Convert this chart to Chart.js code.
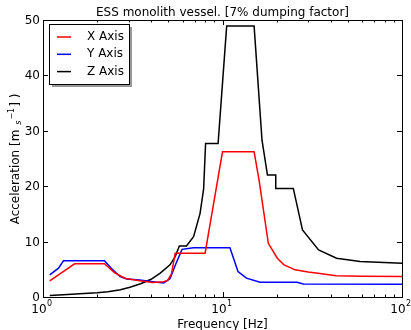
<!DOCTYPE html>
<html>
<head>
<meta charset="utf-8">
<script src="https://cdn.jsdelivr.net/npm/chart.js@4.4.1/dist/chart.umd.min.js"></script>
<style>
  html, body { margin: 0; padding: 0; background: #ffffff; }
</style>
</head>
<body>
<canvas id="accChart" width="411" height="330"></canvas>
<script>
// ---- data ----
const xAxisFreq = [1.09, 1.5, 2.2, 2.5, 2.85, 3.45, 4.1, 4.7, 4.95, 5.2, 5.45, 8.0, 10.0, 15.0, 16.0, 18.0, 20.2, 22.0, 25.4, 30.0, 34.0, 43.0, 60.0, 100.0];
const xAxisAcc  = [2.9, 6.0, 6.0, 4.4, 3.4, 2.95, 2.6, 2.75, 3.0, 4.2, 7.9, 7.9, 26.2, 26.2, 21.0, 9.7, 7.0, 5.8, 4.9, 4.5, 4.3, 3.85, 3.75, 3.7];

const yAxisFreq = [1.09, 1.22, 1.3, 2.2, 2.4, 2.69, 2.93, 3.45, 4.1, 4.7, 5.1, 5.5, 5.95, 6.9, 11.0, 12.2, 13.6, 16.2, 26.0, 28.2, 100.0];
const yAxisAcc  = [4.0, 5.2, 6.55, 6.55, 5.2, 3.7, 3.25, 3.05, 2.75, 2.55, 3.3, 6.0, 8.6, 8.9, 8.9, 4.6, 3.4, 2.65, 2.65, 2.35, 2.3];

const zAxisFreq = [1.09, 1.3, 1.6, 2.0, 2.3, 2.7, 3.05, 3.5, 4.0, 4.5, 5.1, 5.45, 5.75, 6.3, 6.9, 7.5, 7.85, 8.05, 9.45, 10.55, 15.0, 16.6, 17.8, 19.8, 19.8, 24.8, 27.9, 34.3, 43.2, 58.4, 100.0];
const zAxisAcc  = [0.25, 0.4, 0.6, 0.75, 0.95, 1.3, 1.75, 2.4, 3.2, 4.3, 5.8, 7.3, 9.2, 9.2, 10.9, 15.1, 19.5, 27.7, 27.7, 48.9, 48.9, 28.3, 22.0, 22.0, 19.6, 19.6, 12.1, 8.5, 7.0, 6.4, 6.1];

const seriesNames  = ["X Axis", "Y Axis", "Z Axis"];
const seriesColors = ["#ff0000", "#0000ff", "#000000"];

const yTicks = [0, 10, 20, 30, 40, 50];
const xMajor = [1, 10, 100];
const xMinor = [2, 3, 4, 5, 6, 7, 8, 9, 20, 30, 40, 50, 60, 70, 80, 90];

const chartTitle = "ESS monolith vessel. [7% dumping factor]";
const xTitle = "Frequency [Hz]";

const FONT = "'DejaVu Sans', sans-serif";

function toPoints(xs, ys) {
  return xs.map((x, i) => ({ x: x, y: ys[i] }));
}

// matplotlib-like frame, inward ticks, labels and legend
const mplLook = {
  id: "mplLook",
  afterDraw(chart) {
    const ctx = chart.ctx;
    const a = chart.chartArea;
    const xs = chart.scales.x, ys = chart.scales.y;
    ctx.save();
    ctx.strokeStyle = "#000";
    ctx.fillStyle = "#000";
    ctx.lineWidth = 1;

    // frame
    ctx.strokeRect(Math.round(a.left) + 0.5, Math.round(a.top) + 0.5,
                   Math.round(a.right - a.left), Math.round(a.bottom - a.top));

    // y ticks (both sides) + labels
    ctx.font = "12px " + FONT;
    ctx.textAlign = "right";
    ctx.textBaseline = "middle";
    yTicks.forEach(v => {
      const py = Math.round(ys.getPixelForValue(v)) + 0.5;
      ctx.beginPath();
      ctx.moveTo(a.left, py); ctx.lineTo(a.left + 5, py);
      ctx.moveTo(a.right, py); ctx.lineTo(a.right - 5, py);
      ctx.stroke();
      ctx.fillText(String(v), a.left - 3, py);
    });

    // x ticks (bottom and top)
    const tick = (v, len) => {
      const px = Math.round(xs.getPixelForValue(v)) + 0.5;
      ctx.beginPath();
      ctx.moveTo(px, a.bottom); ctx.lineTo(px, a.bottom - len);
      ctx.moveTo(px, a.top); ctx.lineTo(px, a.top + len);
      ctx.stroke();
      return px;
    };
    xMinor.forEach(v => tick(v, 2.5));
    xMajor.forEach((v, i) => {
      const px = tick(v, 5);
      const base = "10", exp = String(i);
      ctx.font = "12px " + FONT;
      const w1 = ctx.measureText(base).width;
      ctx.font = "8px " + FONT;
      const w2 = ctx.measureText(exp).width;
      const x0 = px - 2 - (w1 + w2) / 2;
      ctx.textAlign = "left";
      ctx.textBaseline = "alphabetic";
      ctx.font = "12px " + FONT;
      ctx.fillText(base, x0, a.bottom + 16);
      ctx.font = "8px " + FONT;
      ctx.fillText(exp, x0 + w1 + 0.5, a.bottom + 9);
    });

    // titles
    ctx.font = "12px " + FONT;
    ctx.textAlign = "center";
    ctx.textBaseline = "alphabetic";
    const cx = (a.left + a.right) / 2;
    ctx.fillText(chartTitle, cx, a.top - 4);
    ctx.fillText(xTitle, cx, a.bottom + 31);

    // y title, rotated, with small s and superscript -1
    ctx.save();
    ctx.translate(19, (a.top + a.bottom) / 2);
    ctx.rotate(-Math.PI / 2);
    const parts = [
      { t: "Acceleration [m ", f: "12px " + FONT, dy: 0 },
      { t: "s", f: "italic 8px " + FONT, dy: 2 },
      { t: "\u22121", f: "8px " + FONT, dy: -5 },
      { t: "] )", f: "12px " + FONT, dy: 0 }
    ];
    let total = 0;
    parts.forEach(p => { ctx.font = p.f; p.w = ctx.measureText(p.t).width; total += p.w + 1; });
    let x = -total / 2;
    ctx.textAlign = "left";
    parts.forEach(p => { ctx.font = p.f; ctx.fillText(p.t, x, p.dy); x += p.w + 1; });
    ctx.restore();

    // legend with shadow
    const lx = a.left + 6, ly = a.top + 4, lw = 80, lh = 60;
    ctx.fillStyle = "rgba(0,0,0,0.4)";
    ctx.fillRect(lx + 3, ly + 3, lw, lh);
    ctx.fillStyle = "#fff";
    ctx.fillRect(lx, ly, lw, lh);
    ctx.strokeStyle = "#000";
    ctx.strokeRect(lx + 0.5, ly + 0.5, lw, lh);
    ctx.font = "12px " + FONT;
    ctx.textAlign = "left";
    ctx.textBaseline = "middle";
    chart.data.datasets.forEach((ds, i) => {
      const ry = ly + 13 + i * 17.3;
      ctx.strokeStyle = ds.borderColor;
      ctx.lineWidth = 1.5;
      ctx.beginPath();
      ctx.moveTo(lx + 8, ry); ctx.lineTo(lx + 22, ry);
      ctx.stroke();
      ctx.fillStyle = "#000";
      ctx.fillText(ds.label, lx + 38, ry);
    });
    ctx.restore();
  }
};

const allFreq = [xAxisFreq, yAxisFreq, zAxisFreq];
const allAcc = [xAxisAcc, yAxisAcc, zAxisAcc];

new Chart(document.getElementById("accChart"), {
  type: "line",
  data: {
    datasets: seriesNames.map((name, i) => ({
      label: name,
      data: toPoints(allFreq[i], allAcc[i]),
      borderColor: seriesColors[i],
      backgroundColor: seriesColors[i],
      borderWidth: 1.5,
      pointRadius: 0,
      tension: 0,
      fill: false
    }))
  },
  options: {
    responsive: false,
    animation: false,
    layout: { padding: { left: 43, right: 9, top: 20, bottom: 33 } },
    plugins: { legend: { display: false }, title: { display: false }, tooltip: { enabled: false } },
    scales: {
      x: { type: "logarithmic", min: 1, max: 100, display: false },
      y: { type: "linear", min: 0, max: 50, display: false }
    }
  },
  plugins: [mplLook]
});
</script>
</body>
</html>
